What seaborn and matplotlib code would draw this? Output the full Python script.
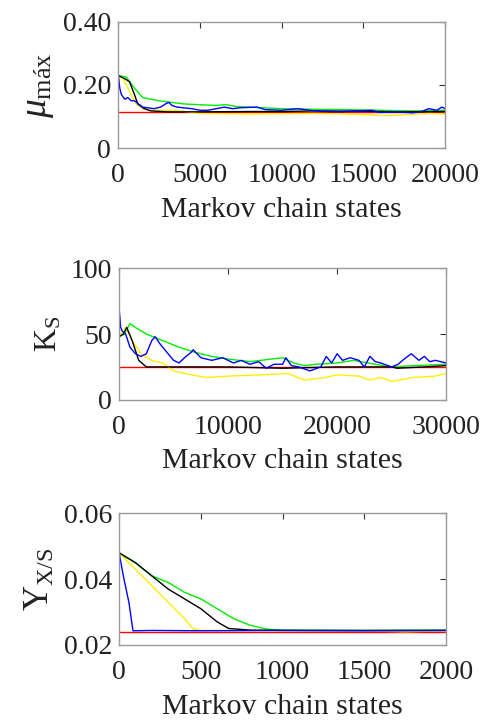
import numpy as np
import pandas as pd
import matplotlib
matplotlib.use('Agg')
import matplotlib.pyplot as plt
import seaborn as sns

# ---- panel 1: mu_max ----
mu_green_x = [0, 500, 1000, 1500, 2500, 4000, 6000, 6600, 7200, 8000, 10000, 12000, 14000, 16000, 18000, 20000]
mu_green_y = [0.23, 0.225, 0.19, 0.16, 0.15, 0.14, 0.135, 0.138, 0.132, 0.13, 0.125, 0.123, 0.122, 0.12, 0.118, 0.12]
mu_black_x = [0, 400, 700, 1000, 1200, 1600, 2000, 3000, 5000, 8000, 10000, 12000, 15000, 17000, 20000]
mu_black_y = [0.23, 0.22, 0.21, 0.17, 0.14, 0.125, 0.118, 0.115, 0.115, 0.116, 0.116, 0.118, 0.117, 0.115, 0.116]
mu_yellow_x = [0, 300, 500, 800, 1100, 1500, 2000, 3500, 5000, 8000, 12000, 14000, 16500, 19000, 20000]
mu_yellow_y = [0.23, 0.22, 0.2, 0.17, 0.14, 0.125, 0.12, 0.12, 0.11, 0.108, 0.11, 0.108, 0.103, 0.11, 0.108]
mu_blue_x = [0, 100, 200, 400, 600, 800, 1000, 1500, 2200, 2600, 2900, 3100, 3300, 3600, 4500, 5000, 5500,
             6000, 6500, 7000, 7500, 8500, 9000, 10000, 11000, 12000, 13500, 14500, 15500, 16000, 17000,
             18000, 18500, 19000, 19500, 19800, 20000]
mu_blue_y = [0.24, 0.19, 0.17, 0.155, 0.16, 0.15, 0.15, 0.13, 0.125, 0.13, 0.14, 0.145, 0.135, 0.13, 0.125, 0.12, 0.12,
             0.125, 0.13, 0.125, 0.128, 0.13, 0.122, 0.12, 0.125, 0.118, 0.115, 0.118, 0.12, 0.113, 0.115,
             0.112, 0.115, 0.125, 0.12, 0.13, 0.125]
mu_ref = 0.115

# ---- panel 2: K_S ----
ks_blue_x = [0, 150, 300, 600, 1000, 1500, 2000, 2500, 3000, 3300, 3800, 4500, 5000, 5500, 6000, 6600, 6800, 7500,
             8500, 9500, 10500, 11200, 12000, 12800, 13500, 14200, 15000, 15300, 15800, 16500, 17500, 18500,
             19000, 19500, 20000, 20500, 21200, 22000, 22500, 23000, 23500, 24000, 25000, 25600, 26000, 26800,
             27500, 28000, 28500, 29000, 30000]
ks_blue_y = [70, 55, 52, 50, 40, 35, 33, 35, 45, 48, 42, 35, 30, 28, 32, 36, 38, 32,
             30, 32, 28, 30, 27, 29, 24, 27, 27, 32, 26, 25, 22, 25,
             33, 28, 35, 30, 32, 30, 25, 33, 29, 28, 25, 27, 30, 35, 30, 33, 29, 30, 28]
ks_green_x = [0, 500, 1000, 1500, 2500, 4000, 5500, 7000, 8500, 10000, 12000, 14000, 15000, 16000,
              17000, 18000, 20000, 21500, 23500, 25000, 27000, 30000]
ks_green_y = [48, 50, 58, 55, 50, 45, 40, 36, 33, 31, 29, 31, 32, 28,
              26, 27, 28, 30, 27, 25, 26, 27]
ks_black_x = [0, 400, 700, 1200, 1800, 2500, 5000, 10000, 15000, 20000, 25000, 25500, 28000, 30000]
ks_black_y = [48, 50, 55, 45, 30, 25, 25, 25, 24, 25, 25, 24, 25, 26]
ks_yellow_x = [0, 600, 1200, 2000, 3000, 4000, 5000, 6000, 8000, 10000, 13000, 15500, 17000, 19000,
               20000, 22000, 23000, 24000, 25000, 27000, 29000, 30000]
ks_yellow_y = [48, 55, 45, 35, 30, 28, 22, 20, 17, 18, 19, 20, 15, 17,
               19, 18, 15, 17, 14, 17, 18, 20]
ks_ref = 25

# ---- panel 3: Y_X/S ----
y_blue_x = [0, 30, 60, 85, 200, 500, 1000, 1500, 2000]
y_blue_y = [0.048, 0.040, 0.033, 0.0243, 0.0244, 0.0243, 0.0244, 0.0243, 0.0244]
y_yellow_x = [0, 100, 200, 300, 400, 450, 500, 1000, 1500, 1750, 2000]
y_yellow_y = [0.048, 0.043, 0.038, 0.033, 0.028, 0.025, 0.0244, 0.0243, 0.0243, 0.0240, 0.0243]
y_black_x = [0, 100, 200, 300, 400, 500, 600, 670, 800, 1000, 1500, 2000]
y_black_y = [0.048, 0.045, 0.041, 0.037, 0.034, 0.031, 0.027, 0.025, 0.0245, 0.0244, 0.0244, 0.0244]
y_green_x = [0, 100, 200, 300, 400, 500, 600, 700, 800, 900, 1000, 1500, 2000]
y_green_y = [0.048, 0.045, 0.041, 0.039, 0.036, 0.034, 0.031, 0.028, 0.026, 0.0248, 0.0245, 0.0244, 0.0245]
y_ref = 0.0238

sns.set_theme(style="white")
plt.rcParams['font.family'] = ['Liberation Serif', 'DejaVu Serif']
plt.rcParams['mathtext.fontset'] = 'custom'
plt.rcParams['mathtext.rm'] = 'Liberation Serif'
plt.rcParams['mathtext.it'] = 'Liberation Serif:italic'

fig = plt.figure(figsize=(4.86, 7.23), dpi=100)
ax1 = fig.add_axes([0.243, 0.795, 0.673, 0.175])
ax2 = fig.add_axes([0.245, 0.447, 0.673, 0.182])
ax3 = fig.add_axes([0.245, 0.108, 0.673, 0.182])

panels = [
    (ax1, [(mu_green_x, mu_green_y, '#00ee00'), (mu_yellow_x, mu_yellow_y, '#ffee00'),
           (mu_black_x, mu_black_y, 'black'), (mu_blue_x, mu_blue_y, '#0000ff')],
     mu_ref, (0, 20000), (0, 0.40), [0, 5000, 10000, 15000, 20000], ['0', '5000', '10000', '15000', '20000'],
     [0, 0.2, 0.4], ['0', '0.20', '0.40'], r'$\mu_{\mathrm{máx}}$', 27),
    (ax2, [(ks_green_x, ks_green_y, '#00ee00'), (ks_yellow_x, ks_yellow_y, '#ffee00'),
           (ks_black_x, ks_black_y, 'black'), (ks_blue_x, ks_blue_y, '#0000ff')],
     ks_ref, (0, 30000), (0, 100), [0, 10000, 20000, 30000], ['0', '10000', '20000', '30000'],
     [0, 50, 100], ['0', '50', '100'], r'K$_\mathrm{S}$', 23),
    (ax3, [(y_green_x, y_green_y, '#00ee00'), (y_yellow_x, y_yellow_y, '#ffee00'),
           (y_black_x, y_black_y, 'black'), (y_blue_x, y_blue_y, '#0000ff')],
     y_ref, (0, 2000), (0.02, 0.06), [0, 500, 1000, 1500, 2000], ['0', '500', '1000', '1500', '2000'],
     [0.02, 0.04, 0.06], ['0.02', '0.04', '0.06'], r'Y$_\mathrm{X/S}$', 25),
]

for ax, traces, ref, xlim, ylim, xt, xtl, yt, ytl, ylab, ysize in panels:
    ax.axhline(ref, color='red', lw=1.0, zorder=1)
    for xs, ys, c in traces:
        sns.lineplot(x=xs, y=ys, color=c, lw=1.0, ax=ax, sort=False)
    ax.set_xlim(*xlim)
    ax.set_ylim(*ylim)
    ax.set_xticks(xt)
    ax.set_xticklabels(xtl)
    ax.set_yticks(yt)
    ax.set_yticklabels(ytl)
    ax.tick_params(direction='in', top=True, right=True, length=4, width=0.8,
                   color='#333333', labelsize=20, labelcolor='#222222')
    ax.tick_params(axis='x', pad=11)
    ax.tick_params(axis='y', pad=5)
    for s in ax.spines.values():
        s.set_color('#999999')
        s.set_linewidth(1.0)
    ax.set_xlabel('Markov chain states', fontsize=21.5, color='#222222', labelpad=6)
    ax.set_ylabel(ylab, fontsize=ysize, color='#222222', labelpad=5)

fig.savefig('out.png', dpi=100)
